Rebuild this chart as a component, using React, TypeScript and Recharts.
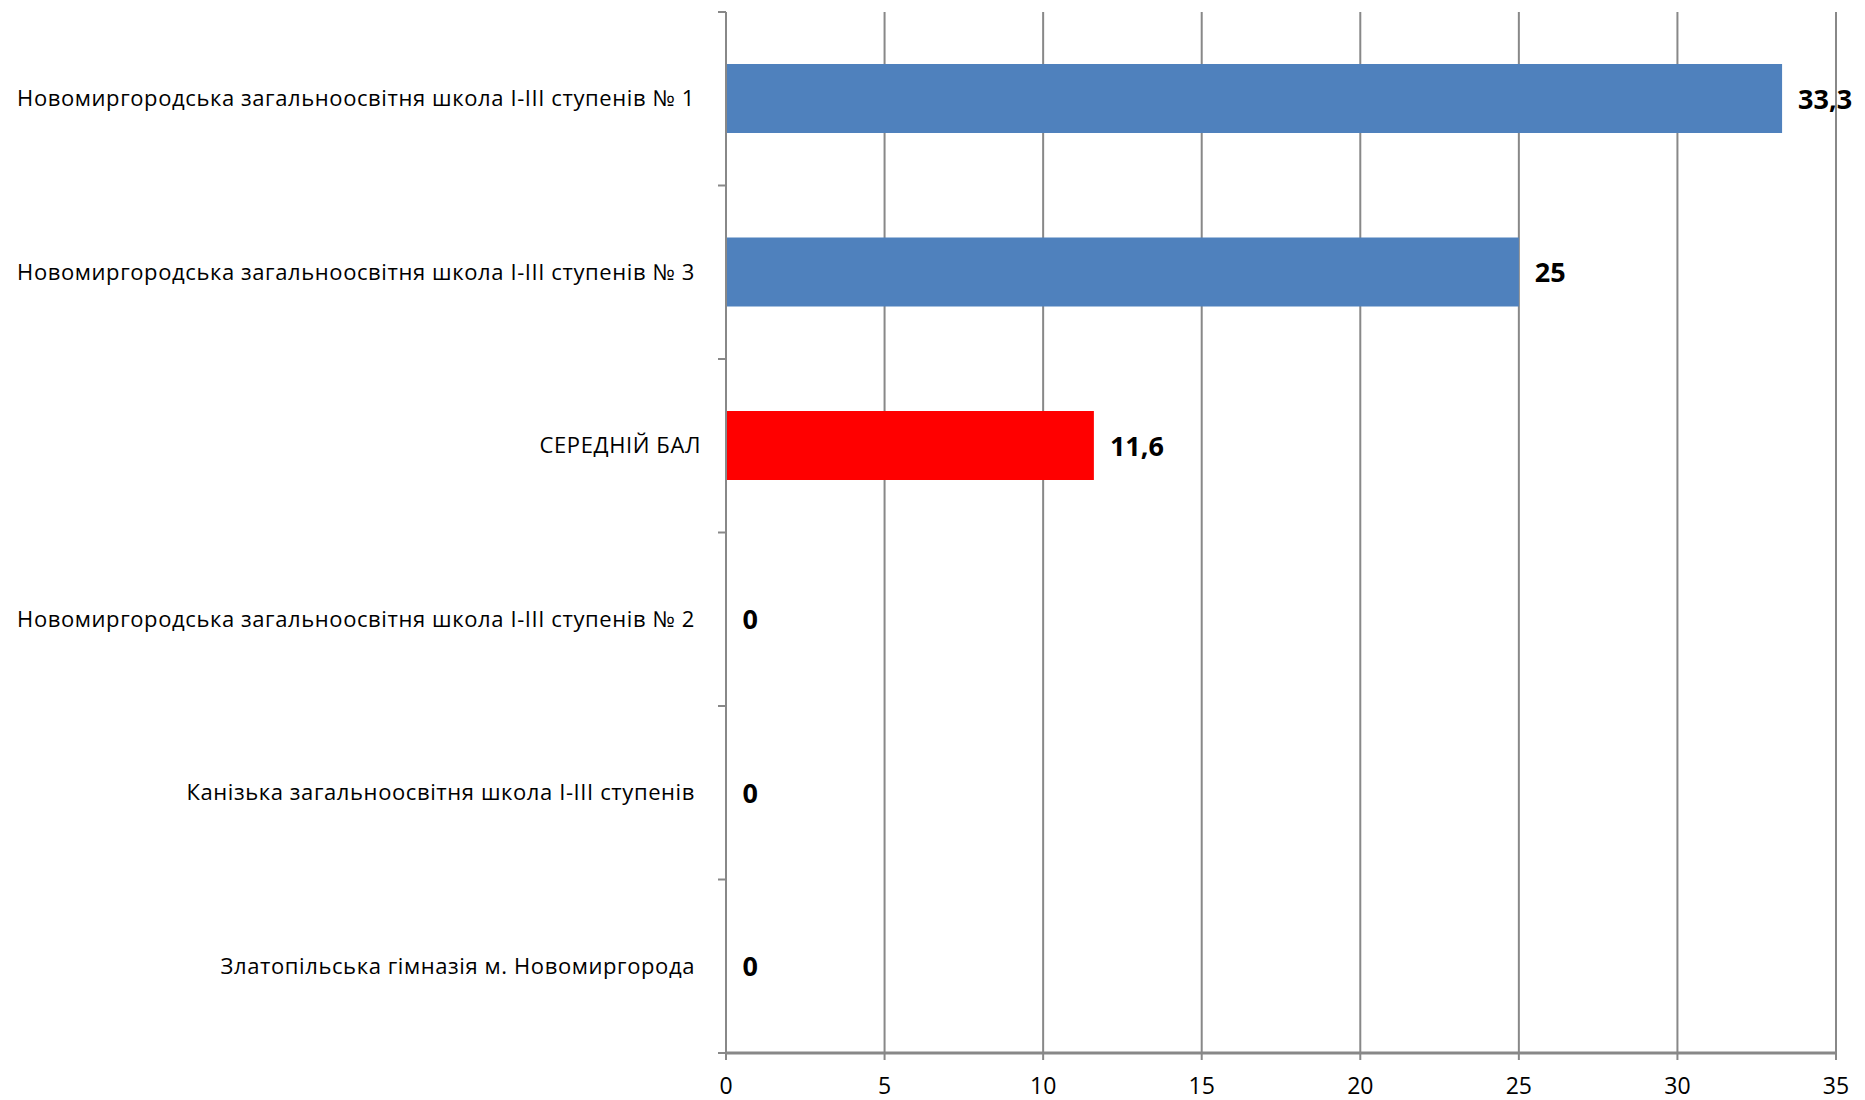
import React from "react";
import {
  BarChart,
  Bar,
  XAxis,
  YAxis,
  CartesianGrid,
  Cell,
  LabelList,
} from "recharts";

const schools = [
  "Новомиргородська загальноосвітня школа I-III ступенів № 1",
  "Новомиргородська загальноосвітня школа I-III ступенів № 3",
  "СЕРЕДНІЙ БАЛ",
  "Новомиргородська загальноосвітня школа I-III ступенів № 2",
  "Канізька загальноосвітня школа I-III ступенів",
  "Златопільська гімназія м. Новомиргорода",
];
const scores = [33.3, 25, 11.6, 0, 0, 0];
const xTicks = [0, 5, 10, 15, 20, 25, 30, 35];
const AVG_LABEL = "СЕРЕДНІЙ БАЛ";

const data = schools.map((name, i) => ({ name, score: scores[i] }));

const FONT = "'Open Sans', sans-serif";
const GRID = "#888888";

// category tick: text on the left + a short mark on the band boundary (like Excel)
const SchoolTick = (props: any) => {
  const { x, y, payload, index } = props;
  const off = payload.offset || 0;
  const axisX = x + 31;
  return (
    <g>
      <line x1={axisX - 8} x2={axisX} y1={y - off} y2={y - off} stroke={GRID} strokeWidth={2} />
      {index === schools.length - 1 && (
        <line x1={axisX - 8} x2={axisX} y1={y + off} y2={y + off} stroke={GRID} strokeWidth={2} />
      )}
      <text
        x={payload.value === AVG_LABEL ? x + 6 : x}
        y={y}
        dy="0.35em"
        textAnchor="end"
        fontFamily={FONT}
        fontSize={22}
        letterSpacing={0.6}
        fill="#000"
      >
        {payload.value}
      </text>
    </g>
  );
};

// value label to the right of the bar, shown for zero values too
const ValueLabel = (props: any) => {
  const { x, y, width, height, value } = props;
  if (value == null) return null;
  return (
    <text
      x={Number(x) + Number(width || 0) + 16}
      y={Number(y) + Number(height) / 2}
      dy="0.38em"
      fontFamily={FONT}
      fontSize={27}
      fontWeight={700}
      fill="#000"
    >
      {String(value).replace(".", ",")}
    </text>
  );
};

export default function App() {
  return (
    <div style={{ position: "absolute", left: 0, top: 0, width: 1865, height: 1100, background: "#fff" }}>
      <BarChart
        width={1865}
        height={1100}
        data={data}
        layout="vertical"
        margin={{ top: 12, right: 29, bottom: 0, left: 0 }}
        barCategoryGap="30%"
      >
        <CartesianGrid horizontal={false} vertical stroke={GRID} strokeWidth={2} />
        <XAxis
          type="number"
          domain={[0, 35]}
          ticks={xTicks}
          interval={0}
          height={47}
          axisLine={{ stroke: GRID, strokeWidth: 3 }}
          tickLine={{ stroke: GRID, strokeWidth: 2 }}
          tickSize={7}
          tickMargin={18}
          tick={{ fontFamily: FONT, fontSize: 23, fill: "#000" }}
        />
        <YAxis
          type="category"
          dataKey="name"
          width={726}
          axisLine={{ stroke: GRID, strokeWidth: 2 }}
          tickLine={false}
          tickSize={0}
          tickMargin={31}
          interval={0}
          tick={<SchoolTick />}
        />
        <Bar
          dataKey="score"
          isAnimationActive={false}
          minPointSize={(v: any) => (v === 0 ? 0.5 : 0)}
        >
          {data.map((d, i) => (
            <Cell key={i} fill={d.name === AVG_LABEL ? "#FF0000" : "#4F81BD"} />
          ))}
          <LabelList dataKey="score" content={<ValueLabel />} />
        </Bar>
      </BarChart>
    </div>
  );
}
